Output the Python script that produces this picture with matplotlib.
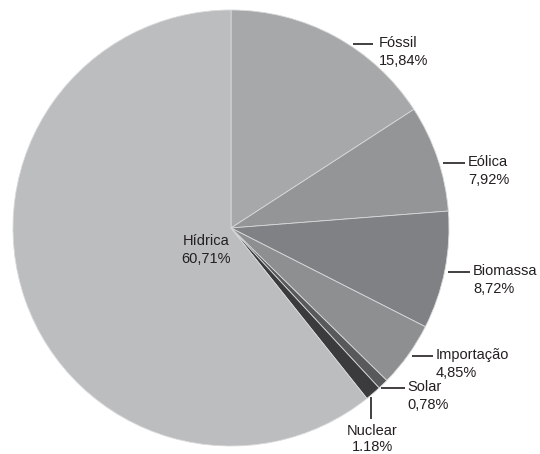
import matplotlib
matplotlib.use("Agg")
import matplotlib.pyplot as plt

labels = ["Fóssil", "Eólica", "Biomassa", "Importação", "Solar", "Nuclear", "Hídrica"]
values = [15.84, 7.92, 8.72, 4.85, 0.78, 1.18, 60.71]
value_text = ["15,84%", "7,92%", "8,72%", "4,85%", "0,78%", "1.18%", "60,71%"]
colors = ["#a7a8aa", "#949597", "#808184", "#8e8f91", "#58595b", "#3b3b3d", "#bcbdbf"]

W, H = 540, 454
CX, CY, R = 231, 228, 218

fig = plt.figure(figsize=(W / 100, H / 100), dpi=100)
ax = fig.add_axes([0, 0, 1, 1])

ax.pie(values, colors=colors, startangle=90, counterclock=False, radius=1,
       wedgeprops=dict(edgecolor="#d8d9db", linewidth=0.6))

ax.set_xlim(-CX / R, (W - CX) / R)
ax.set_ylim(-(H - CY) / R, CY / R)
ax.set_aspect("equal", adjustable="box")
ax.axis("off")

def P(x, y):
    return ((x - CX) / R, (CY - y) / R)

txtc = "#231f20"
fs = 10.5
fam = ["Liberation Sans", "DejaVu Sans"]

# (line x0, line x1, line y, text x) for side labels
side = {
    "Fóssil": (353, 373, 44, 379),
    "Eólica": (443, 465, 163, 468),
    "Biomassa": (448, 470, 272, 473),
    "Importação": (412, 433, 356, 436),
    "Solar": (381, 405, 388, 407),
}
for i, lab in enumerate(labels):
    if lab in side:
        x0, x1, y, tx = side[lab]
        (a, b), (c, d) = P(x0, y), P(x1, y)
        ax.plot([a, c], [b, d], color=txtc, lw=1.2, solid_capstyle="butt")
        px, py = P(tx, y - 1)
        ax.text(px, py, lab, ha="left", va="center", fontsize=fs, color=txtc, family=fam)
        px, py = P(tx, y + 17)
        ax.text(px, py, value_text[i], ha="left", va="center", fontsize=fs, color=txtc, family=fam)

# Nuclear
i = labels.index("Nuclear")
(a, b), (c, d) = P(371, 397), P(371, 419)
ax.plot([a, c], [b, d], color=txtc, lw=1.2, solid_capstyle="butt")
px, py = P(372, 431)
ax.text(px, py, labels[i], ha="center", va="center", fontsize=fs, color=txtc, family=fam)
px, py = P(372, 447)
ax.text(px, py, value_text[i], ha="center", va="center", fontsize=fs, color=txtc, family=fam)

# Hídrica
i = labels.index("Hídrica")
px, py = P(206, 241)
ax.text(px, py, labels[i], ha="center", va="center", fontsize=fs, color=txtc, family=fam)
px, py = P(206, 259)
ax.text(px, py, value_text[i], ha="center", va="center", fontsize=fs, color=txtc, family=fam)

fig.savefig("out.png", dpi=100, facecolor="white")
